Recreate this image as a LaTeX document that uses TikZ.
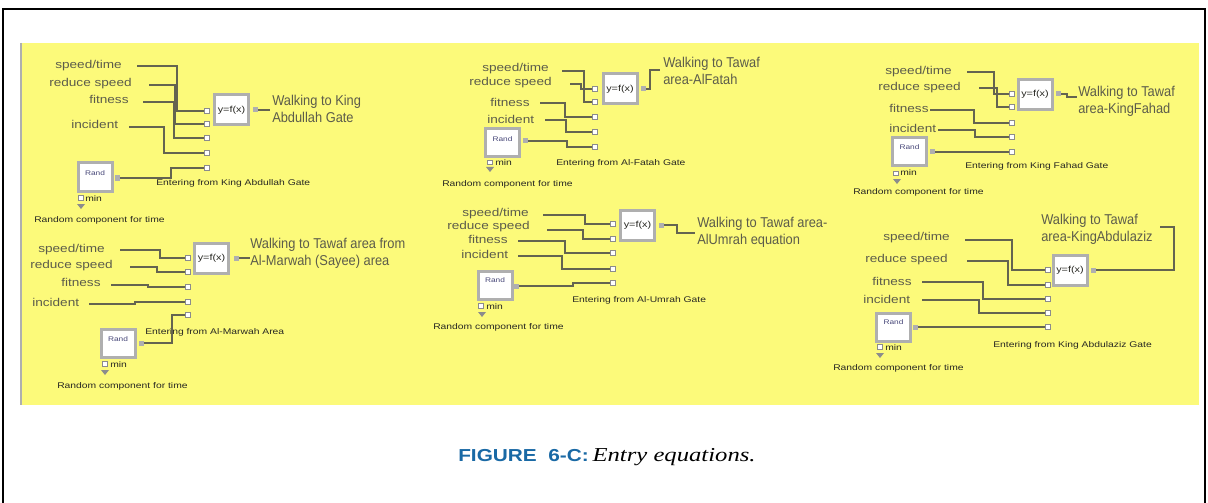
\documentclass[tikz,border=0pt]{standalone}
\usepackage{fontspec}
\setmainfont{Liberation Sans}
\newfontfamily\lblfont[FakeStretch=1.2]{Liberation Sans}
\newfontfamily\walkfont[FakeStretch=0.9]{Liberation Sans}
\newfontfamily\smfont[FakeStretch=1.25]{Liberation Sans}
\newfontfamily\capsans[FakeStretch=1.2]{Liberation Sans}
\newfontfamily\capserif[FakeStretch=1.25]{Liberation Serif}
\definecolor{panel}{RGB}{252,250,122}
\definecolor{wirec}{RGB}{100,100,80}
\definecolor{lblc}{RGB}{92,92,75}
\definecolor{darkc}{RGB}{40,40,35}
\definecolor{frameg}{RGB}{175,175,175}
\definecolor{portg}{RGB}{140,140,140}
\definecolor{capblue}{RGB}{25,105,165}
\definecolor{randc}{RGB}{70,70,120}
\tikzset{
 inp/.style={text=lblc,font=\lblfont\fontsize{8.5}{10}\selectfont,inner sep=0,anchor=west},
 walk/.style={text=lblc,font=\walkfont\fontsize{10.7}{12.75}\selectfont,inner sep=0,anchor=west,align=left},
 smalltxt/.style={text=darkc,font=\smfont\fontsize{6.2}{7}\selectfont,inner sep=0,anchor=west},
 randtxt/.style={text=randc,font=\smfont\fontsize{5}{6}\selectfont,inner sep=0},
 wire/.style={draw=wirec,line width=0.85pt},
 fbox/.style={draw=frameg,line width=2.25pt,fill=white,minimum width=25.5pt,minimum height=22.5pt,inner sep=0,font=\smfont\fontsize{6.5}{7}\selectfont,text=darkc},
 rbox/.style={draw=frameg,line width=2.25pt,fill=white,minimum width=25.5pt,minimum height=21pt,inner sep=0},
 inport/.style={draw=portg,line width=0.5pt,fill=white,minimum size=3.5pt,inner sep=0},
 outport/.style={fill=frameg,minimum size=3.75pt,inner sep=0},
 minbox/.style={draw=portg,line width=0.5pt,fill=white,minimum size=3.5pt,inner sep=0},
 trig/.style={fill=portg},
}
\newcommand{\inports}[7]{%
 \node[inport] (#1p1) at (#2,#3) {};
 \node[inport] (#1p2) at (#2,#4) {};
 \node[inport] (#1p3) at (#2,#5) {};
 \node[inport] (#1p4) at (#2,#6) {};
 \node[inport] (#1p5) at (#2,#7) {};}
\newcommand{\tri}[3]{%
 \coordinate (#1) at (#2,#3);
 \fill[trig] (#1) ++(-4,0) -- ++(8,0) -- ++(-4,5) -- cycle;}
\begin{document}
\begin{tikzpicture}[x=0.75pt,y=-0.75pt]
\useasboundingbox (0,0) rectangle (1208,503);
\fill[white] (0,0) rectangle (1208,503);
\draw[line width=1.5pt] (3,520) -- (3,9) -- (1205,9) -- (1205,520);
\fill[panel] (20,43) rectangle (1199,405);
\draw[frameg,line width=1pt] (21,43) -- (21,405);

% ---------- Block 1 ----------
\node[inp] (b1a) at (55,66) {speed/time};
\node[inp] (b1b) at (49,84) {reduce speed};
\node[inp] (b1c) at (89,99) {fitness};
\node[inp] (b1d) at (71,124) {incident};
\coordinate (b1as) at (137,66);
\coordinate (b1bs) at (149,85);
\coordinate (b1cs) at (143,102);
\coordinate (b1ds) at (129,127);
\inports{b1}{207}{111}{124}{138}{153}{168}
\node[fbox] (b1f) at (231.5,110) {y=f(x)};
\node[outport] (b1o) at (255,110) {};
\node[walk] (b1w) at (272,108.5) {Walking to King\\Abdullah Gate};
\node[rbox] (b1r) at (95,177) {};
\node[randtxt] (b1rl) at (95,173) {Rand};
\node[outport] (b1ro) at (117,178) {};
\node[minbox] (b1m) at (81,198) {};
\node[smalltxt] (b1mt) at (85,199) {min};
\tri{b1t}{81}{204}
\node[smalltxt] (b1rc) at (34,220) {Random component for time};
\node[smalltxt] (b1e) at (156,183) {Entering from King Abdullah Gate};
\draw[wire] (b1as) -- ++(40,0) |- (b1p1);
\draw[wire] (b1bs) -- ++(26,0) |- (b1p2);
\draw[wire] (b1cs) -- ++(31,0) |- (b1p3);
\draw[wire] (b1ds) -- ++(35,0) |- (b1p4);
\draw[wire] (b1ro) -- ++(54,0) |- (b1p5);
\draw[wire] (b1o) -- ++(15,0);

% ---------- Block 2 ----------
\node[inp] (b2a) at (38,250) {speed/time};
\node[inp] (b2b) at (30,266) {reduce speed};
\node[inp] (b2c) at (61,282) {fitness};
\node[inp] (b2d) at (32,302) {incident};
\coordinate (b2as) at (120,250);
\coordinate (b2bs) at (130,267);
\coordinate (b2cs) at (111,285);
\coordinate (b2ds) at (89,304);
\inports{b2}{188}{258}{272}{287}{302}{315}
\node[fbox] (b2f) at (211.5,258.5) {y=f(x)};
\node[outport] (b2o) at (236.5,258) {};
\node[walk] (b2w) at (250,253) {Walking to Tawaf area from\\Al-Marwah (Sayee) area};
\node[rbox] (b2r) at (118,343.5) {};
\node[randtxt] (b2rl) at (118,339) {Rand};
\node[outport] (b2ro) at (141,343) {};
\node[minbox] (b2m) at (104.5,364) {};
\node[smalltxt] (b2mt) at (110,365) {min};
\tri{b2t}{105}{370}
\node[smalltxt] (b2rc) at (57,386) {Random component for time};
\node[smalltxt] (b2e) at (145,332) {Entering from Al-Marwah Area};
\draw[wire] (b2as) -- ++(40,0) |- (b2p1);
\draw[wire] (b2bs) -- ++(27,0) |- (b2p2);
\draw[wire] (b2cs) -- ++(37,0) |- (b2p3);
\draw[wire] (b2ds) -- ++(46,0) |- (b2p4);
\draw[wire] (b2ro) -- ++(31,0) |- (b2p5);
\draw[wire] (b2o) -- ++(13,0);

% ---------- Block 3 ----------
\node[inp] (b3a) at (482,69) {speed/time};
\node[inp] (b3b) at (469,83) {reduce speed};
\node[inp] (b3c) at (490,102) {fitness};
\node[inp] (b3d) at (487,119) {incident};
\coordinate (b3as) at (562,71);
\coordinate (b3bs) at (570,84);
\coordinate (b3cs) at (540,103);
\coordinate (b3ds) at (545,120);
\inports{b3}{595}{89}{102}{117}{132}{147}
\node[fbox] (b3f) at (620,89) {y=f(x)};
\node[outport] (b3o) at (643.5,89) {};
\node[walk] (b3w) at (663,70.5) {Walking to Tawaf\\area-AlFatah};
\node[rbox] (b3r) at (502.5,143) {};
\node[randtxt] (b3rl) at (502.5,139) {Rand};
\node[outport] (b3ro) at (525.5,141) {};
\node[minbox] (b3m) at (489.5,162.5) {};
\node[smalltxt] (b3mt) at (495,163) {min};
\tri{b3t}{490}{167}
\node[smalltxt] (b3rc) at (442,184) {Random component for time};
\node[smalltxt] (b3e) at (556,163) {Entering from Al-Fatah Gate};
\draw[wire] (b3as) -- ++(22,0) |- (b3p2);
\draw[wire] (b3bs) -- ++(11,0) |- (b3p1);
\draw[wire] (b3cs) -- ++(25,0) |- (b3p3);
\draw[wire] (b3ds) -- ++(21,0) |- (b3p4);
\draw[wire] (b3ro) -- ++(41.5,0) |- (b3p5);
\draw[wire] (b3o) -- ++(6.5,0) -- ++(0,-19) -- ++(10,0);

% ---------- Block 4 ----------
\node[inp] (b4a) at (462,214) {speed/time};
\node[inp] (b4b) at (447,227) {reduce speed};
\node[inp] (b4c) at (468,239) {fitness};
\node[inp] (b4d) at (461,254) {incident};
\coordinate (b4as) at (543,215);
\coordinate (b4bs) at (547,230);
\coordinate (b4cs) at (518,241);
\coordinate (b4ds) at (518,256);
\inports{b4}{613}{224}{239}{253}{269}{283}
\node[fbox] (b4f) at (637.5,225.5) {y=f(x)};
\node[outport] (b4o) at (661.5,225) {};
\node[walk] (b4w) at (697,232) {Walking to Tawaf area-\\AlUmrah equation};
\node[rbox] (b4r) at (495,285) {};
\node[randtxt] (b4rl) at (495,280) {Rand};
\node[outport] (b4ro) at (516.5,286) {};
\node[minbox] (b4m) at (480.5,305.5) {};
\node[smalltxt] (b4mt) at (486,307) {min};
\tri{b4t}{482}{312}
\node[smalltxt] (b4rc) at (433,327) {Random component for time};
\node[smalltxt] (b4e) at (572,300) {Entering from Al-Umrah Gate};
\draw[wire] (b4as) -- ++(42,0) |- (b4p1);
\draw[wire] (b4bs) -- ++(36,0) |- (b4p2);
\draw[wire] (b4cs) -- ++(47,0) |- (b4p3);
\draw[wire] (b4ds) -- ++(44,0) |- (b4p4);
\draw[wire] (b4ro) -- ++(56.5,0) |- (b4p5);
\draw[wire] (b4o) -- ++(15.5,0) -- ++(0,8) -- ++(18,0);

% ---------- Block 5 ----------
\node[inp] (b5a) at (885,72) {speed/time};
\node[inp] (b5b) at (878,88) {reduce speed};
\node[inp] (b5c) at (889,108) {fitness};
\node[inp] (b5d) at (889,128) {incident};
\coordinate (b5as) at (967,72);
\coordinate (b5bs) at (979,88);
\coordinate (b5cs) at (930,110);
\coordinate (b5ds) at (938,130);
\inports{b5}{1012}{94}{107}{123}{137}{152}
\node[fbox] (b5f) at (1035,94.5) {y=f(x)};
\node[outport] (b5o) at (1058.5,94) {};
\node[walk] (b5w) at (1078,101) {Walking to Tawaf\\area-KingFahad};
\node[rbox] (b5r) at (909.5,152) {};
\node[randtxt] (b5rl) at (909.5,147) {Rand};
\node[outport] (b5ro) at (932.5,152) {};
\node[minbox] (b5m) at (895.5,173.5) {};
\node[smalltxt] (b5mt) at (900,173) {min};
\tri{b5t}{897}{179}
\node[smalltxt] (b5rc) at (853,192) {Random component for time};
\node[smalltxt] (b5e) at (965,166) {Entering from King Fahad Gate};
\draw[wire] (b5as) -- ++(27,0) |- (b5p1);
\draw[wire] (b5bs) -- ++(18,0) |- (b5p2);
\draw[wire] (b5cs) -- ++(44,0) |- (b5p3);
\draw[wire] (b5ds) -- ++(37,0) |- (b5p4);
\draw[wire] (b5ro) -- (b5p5);
\draw[wire] (b5o) -- ++(8.5,0) -- ++(0,3) -- ++(10,0);

% ---------- Block 6 ----------
\node[inp] (b6a) at (883,238) {speed/time};
\node[inp] (b6b) at (865,260) {reduce speed};
\node[inp] (b6c) at (872,281) {fitness};
\node[inp] (b6d) at (863,299) {incident};
\coordinate (b6as) at (965,240);
\coordinate (b6bs) at (967,261);
\coordinate (b6cs) at (922,282);
\coordinate (b6ds) at (922,300);
\inports{b6}{1048}{270}{285}{299}{313}{327}
\node[fbox] (b6f) at (1070,270.5) {y=f(x)};
\node[outport] (b6o) at (1093.5,270) {};
\node[walk] (b6w) at (1041,229) {Walking to Tawaf\\area-KingAbdulaziz};
\node[rbox] (b6r) at (893.5,327) {};
\node[randtxt] (b6rl) at (893.5,322) {Rand};
\node[outport] (b6ro) at (915.5,327) {};
\node[minbox] (b6m) at (879.5,346.5) {};
\node[smalltxt] (b6mt) at (885,348) {min};
\tri{b6t}{880}{353}
\node[smalltxt] (b6rc) at (833,368) {Random component for time};
\node[smalltxt] (b6e) at (993,345) {Entering from King Abdulaziz Gate};
\draw[wire] (b6as) -- ++(47,0) |- (b6p1);
\draw[wire] (b6bs) -- ++(41,0) |- (b6p2);
\draw[wire] (b6cs) -- ++(61,0) |- (b6p3);
\draw[wire] (b6ds) -- ++(57,0) |- (b6p4);
\draw[wire] (b6ro) -- (b6p5);
\draw[wire] (b6o) -- ++(80.5,0) -- ++(0,-43) -- ++(-14,0);

% ---------- Caption ----------
\node[anchor=west,inner sep=0] (cap) at (458,457)
 {{\capsans\fontsize{13}{15}\selectfont\bfseries\color{capblue}FIGURE\ \ 6-C:}\ {\capserif\fontsize{14.8}{16}\selectfont\itshape Entry equations.}};
\end{tikzpicture}
\end{document}
